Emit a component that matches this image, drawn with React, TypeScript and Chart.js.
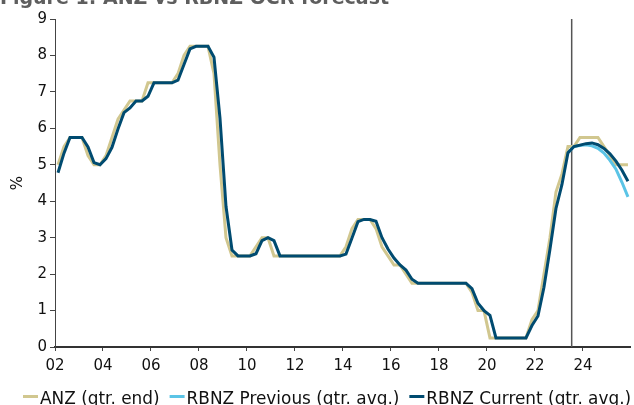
import { useEffect, useRef } from "react";
import { Chart, registerables } from "chart.js";

Chart.register(...registerables);

// ---- Data -------------------------------------------------------------
const titleText = "Figure 1: ANZ vs RBNZ OCR forecast";
const startYear = 2002; // first quarter: 2002 Q1
const seriesLabels = ["ANZ (qtr. end)", "RBNZ Previous (qtr. avg.)", "RBNZ Current (qtr. avg.)"];

// ANZ (quarter end), 2002Q1 .. 2025Q4
const anzQtrEnd = [
  5.0, 5.5, 5.75, 5.75, // 2002
  5.75, 5.25, 5.0, 5.0, // 2003
  5.25, 5.75, 6.25, 6.5, // 2004
  6.75, 6.75, 6.75, 7.25, // 2005
  7.25, 7.25, 7.25, 7.25, // 2006
  7.5, 8.0, 8.25, 8.25, // 2007
  8.25, 8.25, 7.5, 5.0, // 2008
  3.0, 2.5, 2.5, 2.5, // 2009
  2.5, 2.75, 3.0, 3.0, // 2010
  2.5, 2.5, 2.5, 2.5, // 2011
  2.5, 2.5, 2.5, 2.5, // 2012
  2.5, 2.5, 2.5, 2.5, // 2013
  2.75, 3.25, 3.5, 3.5, // 2014
  3.5, 3.25, 2.75, 2.5, // 2015
  2.25, 2.25, 2.0, 1.75, // 2016
  1.75, 1.75, 1.75, 1.75, // 2017
  1.75, 1.75, 1.75, 1.75, // 2018
  1.75, 1.5, 1.0, 1.0, // 2019
  0.25, 0.25, 0.25, 0.25, // 2020
  0.25, 0.25, 0.25, 0.75, // 2021
  1.0, 2.0, 3.0, 4.25, // 2022
  4.75, 5.5, 5.5, 5.75, // 2023
  5.75, 5.75, 5.75, 5.5, // 2024
  5.25, 5.0, 5.0, 5.0, // 2025
];

// RBNZ Current (quarter average), 2002Q1 .. 2025Q4
const rbnzCurrent = [
  4.78, 5.32, 5.75, 5.75, // 2002
  5.75, 5.49, 5.06, 5.0, // 2003
  5.17, 5.48, 5.98, 6.43, // 2004
  6.56, 6.75, 6.75, 6.88, // 2005
  7.25, 7.25, 7.25, 7.25, // 2006
  7.32, 7.75, 8.18, 8.25, // 2007
  8.25, 8.25, 7.95, 6.28, // 2008
  3.86, 2.66, 2.5, 2.5, // 2009
  2.5, 2.56, 2.92, 3.0, // 2010
  2.92, 2.5, 2.5, 2.5, // 2011
  2.5, 2.5, 2.5, 2.5, // 2012
  2.5, 2.5, 2.5, 2.5, // 2013
  2.55, 2.99, 3.44, 3.5, // 2014
  3.5, 3.45, 3.0, 2.69, // 2015
  2.44, 2.25, 2.11, 1.86, // 2016
  1.75, 1.75, 1.75, 1.75, // 2017
  1.75, 1.75, 1.75, 1.75, // 2018
  1.75, 1.6, 1.2, 1.0, // 2019
  0.87, 0.25, 0.25, 0.25, // 2020
  0.25, 0.25, 0.25, 0.59, // 2021
  0.85, 1.64, 2.68, 3.8, // 2022
  4.46, 5.33, 5.5, 5.54, // 2023
  5.58, 5.6, 5.55, 5.45, // 2024
  5.3, 5.1, 4.85, 4.55, // 2025
];

// RBNZ Previous (quarter average), from 2023Q2 .. 2025Q4
const rbnzPreviousFirstQuarter = "2023Q2";
const rbnzPrevious = [5.33, 5.5, 5.53, 5.55, 5.52, 5.45, 5.32, 5.12, 4.88, 4.52, 4.12];

const xTickYears = [2002, 2004, 2006, 2008, 2010, 2012, 2014, 2016, 2018, 2020, 2022, 2024];
const yTickValues = [0, 1, 2, 3, 4, 5, 6, 7, 8, 9];
const forecastDivider = 2023.53;

// ---- Styles -----------------------------------------------------------
const COLORS = ["#D1C78F", "#5BC4E6", "#004B70"];
const FONT = "DejaVu Sans";

const quarterPos = (i: number) => startYear + i * 0.25 + 0.125;
const quarterIndex = (q: string) => (parseInt(q.slice(0, 4), 10) - startYear) * 4 + (parseInt(q.slice(5), 10) - 1);

export default function App() {
  const canvasRef = useRef<HTMLCanvasElement | null>(null);

  useEffect(() => {
    const canvas = canvasRef.current;
    if (!canvas) return;

    const prevStart = quarterIndex(rbnzPreviousFirstQuarter);

    const extras = {
      id: "extras",
      beforeDatasetsDraw(chart: any) {
        const { ctx, chartArea, scales } = chart;
        const x = scales.x.getPixelForValue(forecastDivider);
        ctx.save();
        ctx.strokeStyle = "#555555";
        ctx.lineWidth = 1.5;
        ctx.beginPath();
        ctx.moveTo(x, chartArea.top);
        ctx.lineTo(x, chartArea.bottom);
        ctx.stroke();
        ctx.restore();
      },
      afterDraw(chart: any) {
        const { ctx } = chart;
        ctx.save();
        // clipped title at top
        ctx.font = `bold 19px "${FONT}"`;
        ctx.fillStyle = "#5e5e5e";
        ctx.textBaseline = "alphabetic";
        ctx.textAlign = "left";
        ctx.fillText(titleText, 0, 4);

        // legend
        ctx.font = `16.9px "${FONT}"`;
        let x = 23;
        const yLine = 396.5;
        const yText = 403.5;
        const sample = 15;
        seriesLabels.forEach((label, i) => {
          ctx.strokeStyle = COLORS[i];
          ctx.lineWidth = 3;
          ctx.beginPath();
          ctx.moveTo(x, yLine);
          ctx.lineTo(x + sample, yLine);
          ctx.stroke();
          x += sample + 2;
          ctx.fillStyle = "#111111";
          ctx.fillText(label, x, yText);
          x += ctx.measureText(label).width + 10;
        });
        ctx.restore();
      },
    };

    const chart = new Chart(canvas, {
      type: "line",
      data: {
        datasets: [
          {
            label: seriesLabels[0],
            data: anzQtrEnd.map((v, i) => ({ x: quarterPos(i), y: v })),
            borderColor: COLORS[0],
            backgroundColor: COLORS[0],
            borderWidth: 3,
            pointRadius: 0,
            tension: 0,
            order: 3,
          },
          {
            label: seriesLabels[1],
            data: rbnzPrevious.map((v, i) => ({ x: quarterPos(prevStart + i), y: v })),
            borderColor: COLORS[1],
            backgroundColor: COLORS[1],
            borderWidth: 3,
            pointRadius: 0,
            tension: 0,
            order: 2,
          },
          {
            label: seriesLabels[2],
            data: rbnzCurrent.map((v, i) => ({ x: quarterPos(i), y: v })),
            borderColor: COLORS[2],
            backgroundColor: COLORS[2],
            borderWidth: 3,
            pointRadius: 0,
            tension: 0,
            order: 1,
          },
        ],
      },
      options: {
        animation: false,
        responsive: false,
        devicePixelRatio: 1,
        layout: { padding: { top: 19, right: 4, left: 0, bottom: 0 } },
        plugins: {
          legend: { display: false },
          tooltip: { enabled: false },
          title: { display: false },
        },
        scales: {
          x: {
            type: "linear",
            min: startYear,
            max: 2025.96,
            afterBuildTicks: (s: any) => {
              s.ticks = xTickYears.map((v) => ({ value: v }));
            },
            afterFit: (s: any) => {
              s.height = 58;
            },
            ticks: {
              autoSkip: false,
              maxRotation: 0,
              padding: 6,
              color: "#111111",
              font: { family: FONT, size: 15 },
              callback: (v: any) => String(Number(v) % 100).padStart(2, "0"),
            },
            grid: {
              display: true,
              drawOnChartArea: false,
              drawTicks: true,
              tickLength: 4,
              color: "#444444",
            },
            border: { display: true, color: "#333333", width: 2 },
          },
          y: {
            type: "linear",
            min: 0,
            max: 9,
            afterBuildTicks: (s: any) => {
              s.ticks = yTickValues.map((v) => ({ value: v }));
            },
            afterFit: (s: any) => {
              s.width = 55;
            },
            ticks: {
              padding: 3,
              color: "#111111",
              font: { family: FONT, size: 15 },
            },
            grid: {
              display: true,
              drawOnChartArea: false,
              drawTicks: true,
              tickLength: 5,
              color: "#444444",
            },
            border: { display: true, color: "#444444", width: 1 },
            title: {
              display: true,
              text: "%",
              color: "#111111",
              font: { family: FONT, size: 15 },
              padding: { top: 9, bottom: 0 },
            },
          },
        },
      },
      plugins: [extras],
    } as any);

    return () => chart.destroy();
  }, []);

  return (
    <div style={{ position: "fixed", left: 0, top: 0, width: 634, height: 405 }}>
      <canvas ref={canvasRef} width={634} height={405} style={{ width: 634, height: 405, display: "block" }} />
    </div>
  );
}
